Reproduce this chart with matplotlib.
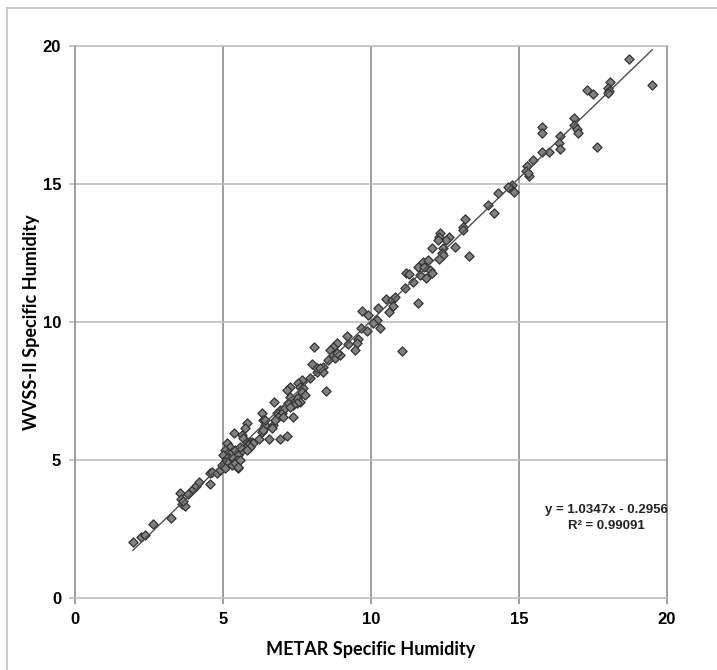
import numpy as np
import matplotlib
matplotlib.use("Agg")
import matplotlib.pyplot as plt
from matplotlib.lines import Line2D

# METAR vs WVSS-II specific humidity
metar = [1.95, 2.23, 2.36, 2.63, 3.23, 3.55, 3.58, 3.62, 3.70, 3.65, 3.82, 4.00, 4.10, 4.20,
         4.55, 4.56, 4.63, 4.80, 4.90,
         5.13, 5.24, 5.07, 5.17, 5.30, 5.40, 5.50, 5.00, 5.13, 5.24, 5.34, 5.47, 5.07, 5.17,
         5.30, 5.40, 4.97, 5.07, 5.50, 5.57, 5.50,
         5.81, 5.74, 5.64, 5.37, 5.68, 5.81, 5.91, 5.98, 6.01, 5.84, 5.74, 5.64, 5.57, 5.91, 5.81,
         6.32, 6.35, 6.42, 6.32, 6.35, 6.69, 6.66, 6.42,
         6.22, 6.55, 6.93, 7.16,
         6.72, 6.93, 6.82, 7.00, 6.86, 6.76, 7.03, 7.36, 7.10,
         7.67, 7.53, 7.60, 7.70, 7.67, 7.77, 7.50, 7.60, 7.50, 7.36, 7.26, 7.16, 7.26, 7.20, 7.26,
         7.94, 8.18, 8.48,
         8.07, 8.00, 8.17, 8.38, 8.38, 8.28,
         8.85, 8.70, 8.60, 8.70, 8.80, 8.55, 8.95, 8.85,
         9.56, 9.53, 9.46, 9.22, 9.19,
         9.70, 9.90, 10.24, 10.20, 10.30, 10.07, 9.86, 9.66,
         10.50, 10.70, 10.80, 10.75, 10.60,
         11.05, 11.18, 11.28, 11.42, 11.15, 11.60,
         11.60, 11.66, 11.86, 12.00, 12.06, 11.76, 11.79, 11.93, 12.06,
         12.33, 12.30, 12.64, 12.53, 12.26, 12.43, 12.40, 12.43, 12.30,
         12.84, 13.30, 13.18, 13.10, 13.10,
         13.95, 14.16, 14.29,
         14.76, 14.70, 14.83, 14.63,
         15.47, 15.27, 15.24, 15.34, 15.30,
         15.78, 15.78, 16.40, 16.35, 16.40, 16.00, 15.78,
         16.86, 16.86, 16.96, 17.00, 17.65,
         17.30, 17.50, 18.07, 18.00, 18.04, 18.00,
         18.70, 19.50]
wvss = [2.02, 2.20, 2.28, 2.68, 2.91, 3.80, 3.60, 3.40, 3.35, 3.50, 3.77, 3.95, 4.05, 4.20,
        4.53, 4.13, 4.57, 4.53, 4.64,
        5.62, 5.47, 5.36, 5.25, 5.29, 5.36, 5.18, 5.18, 5.07, 5.04, 5.07, 5.00, 4.93, 4.89,
        4.82, 4.89, 4.82, 4.71, 4.71, 5.00, 4.75,
        6.34, 6.16, 5.90, 5.98, 5.80, 5.65, 5.65, 5.65, 5.62, 5.54, 5.43, 5.36, 5.47, 5.47, 5.36,
        6.70, 6.45, 6.27, 6.01, 6.09, 6.27, 6.16, 6.45,
        5.76, 5.76, 5.76, 5.87,
        7.10, 6.81, 6.70, 6.70, 6.56, 6.45, 6.56, 6.56, 6.88,
        7.90, 7.79, 7.64, 7.60, 7.46, 7.36, 7.25, 7.10, 7.07, 7.00, 7.64, 7.54, 7.28, 7.07, 6.92,
        7.97, 8.19, 7.50,
        9.10, 8.50, 8.33, 8.37, 8.19, 8.33,
        9.24, 9.10, 9.00, 8.80, 8.70, 8.62, 8.80, 8.88,
        9.38, 9.24, 8.98, 9.20, 9.50,
        10.40, 10.25, 10.50, 10.07, 9.78, 9.96, 9.70, 9.80,
        10.85, 10.80, 10.90, 10.60, 10.36,
        8.95, 11.78, 11.74, 11.45, 11.23, 10.70,
        12.00, 11.70, 11.60, 11.90, 11.78, 12.17, 12.00, 12.25, 12.68,
        13.22, 13.08, 13.08, 12.97, 13.00, 12.68, 12.50, 12.43, 12.28,
        12.72, 12.40, 13.73, 13.44, 13.33,
        14.24, 13.95, 14.67,
        14.96, 14.86, 14.71, 14.89,
        15.90, 15.65, 15.47, 15.29, 15.40,
        17.07, 16.88, 16.74, 16.49, 16.27, 16.16, 16.16,
        17.40, 17.14, 17.00, 16.85, 16.34,
        18.44, 18.26, 18.73, 18.51, 18.37, 18.33,
        19.53, 18.62]

# linear trend from the chart's equation
slope = 1.0347
intercept = -0.2956
r2 = 0.99091

ticks = [0, 5, 10, 15, 20]

fig = plt.figure(figsize=(7.17, 6.70), dpi=100)
ax = fig.add_axes([0.1046, 0.1075, 0.8257, 0.8231])

vcol = '#8c8c8c'
hcol = '#bdbdbd'

ax.set_xlim(0, 20)
ax.set_ylim(0, 20)
ax.set_xticks(ticks)
ax.set_yticks(ticks)
for x in ticks[1:-1]:
    ax.axvline(x, color=vcol, lw=1.2, zorder=0)
for y in ticks[1:-1]:
    ax.axhline(y, color=hcol, lw=1.2, zorder=0)

for s in ['left', 'right']:
    ax.spines[s].set_color(vcol)
    ax.spines[s].set_linewidth(1.2)
for s in ['top', 'bottom']:
    ax.spines[s].set_color(hcol)
    ax.spines[s].set_linewidth(1.2)

ax.tick_params(axis='x', direction='out', length=4, width=1.2, color=vcol, pad=6)
ax.tick_params(axis='y', direction='out', length=4, width=1.2, color=hcol, pad=6)
for lab in ax.get_xticklabels() + ax.get_yticklabels():
    lab.set_fontfamily('Liberation Sans')
    lab.set_fontweight('bold')
    lab.set_fontsize(12)

ax.scatter(metar, wvss, marker='D', s=22, facecolor='#808080', edgecolor='#333333',
           linewidths=0.9, zorder=3)

xs = np.array([min(metar), max(metar)])
ax.plot(xs, slope * xs + intercept, color='#4d4d4d', lw=1.0, zorder=4)

ax.text(0.898, 0.145, f"y = {slope}x - {abs(intercept)}\nR\u00b2 = {r2}",
        transform=ax.transAxes, ha='center', va='center', fontsize=9.5,
        fontweight='bold', color='#222222', family='Liberation Sans',
        linespacing=1.45)

ax.set_xlabel('METAR Specific Humidity', fontsize=13, fontweight='bold',
              family='Lato', labelpad=10)
ax.set_ylabel('WVSS-II Specific Humidity', fontsize=13, fontweight='bold',
              family='Lato', labelpad=2)

# outer frame (left and top edges)
fig.add_artist(Line2D([0.0098, 0.0098], [0, 0.988], transform=fig.transFigure,
                      color='#c0c0c0', lw=1.2))
fig.add_artist(Line2D([0.0098, 1], [0.988, 0.988], transform=fig.transFigure,
                      color='#c0c0c0', lw=1.2))

fig.savefig('out.png', dpi=100)
